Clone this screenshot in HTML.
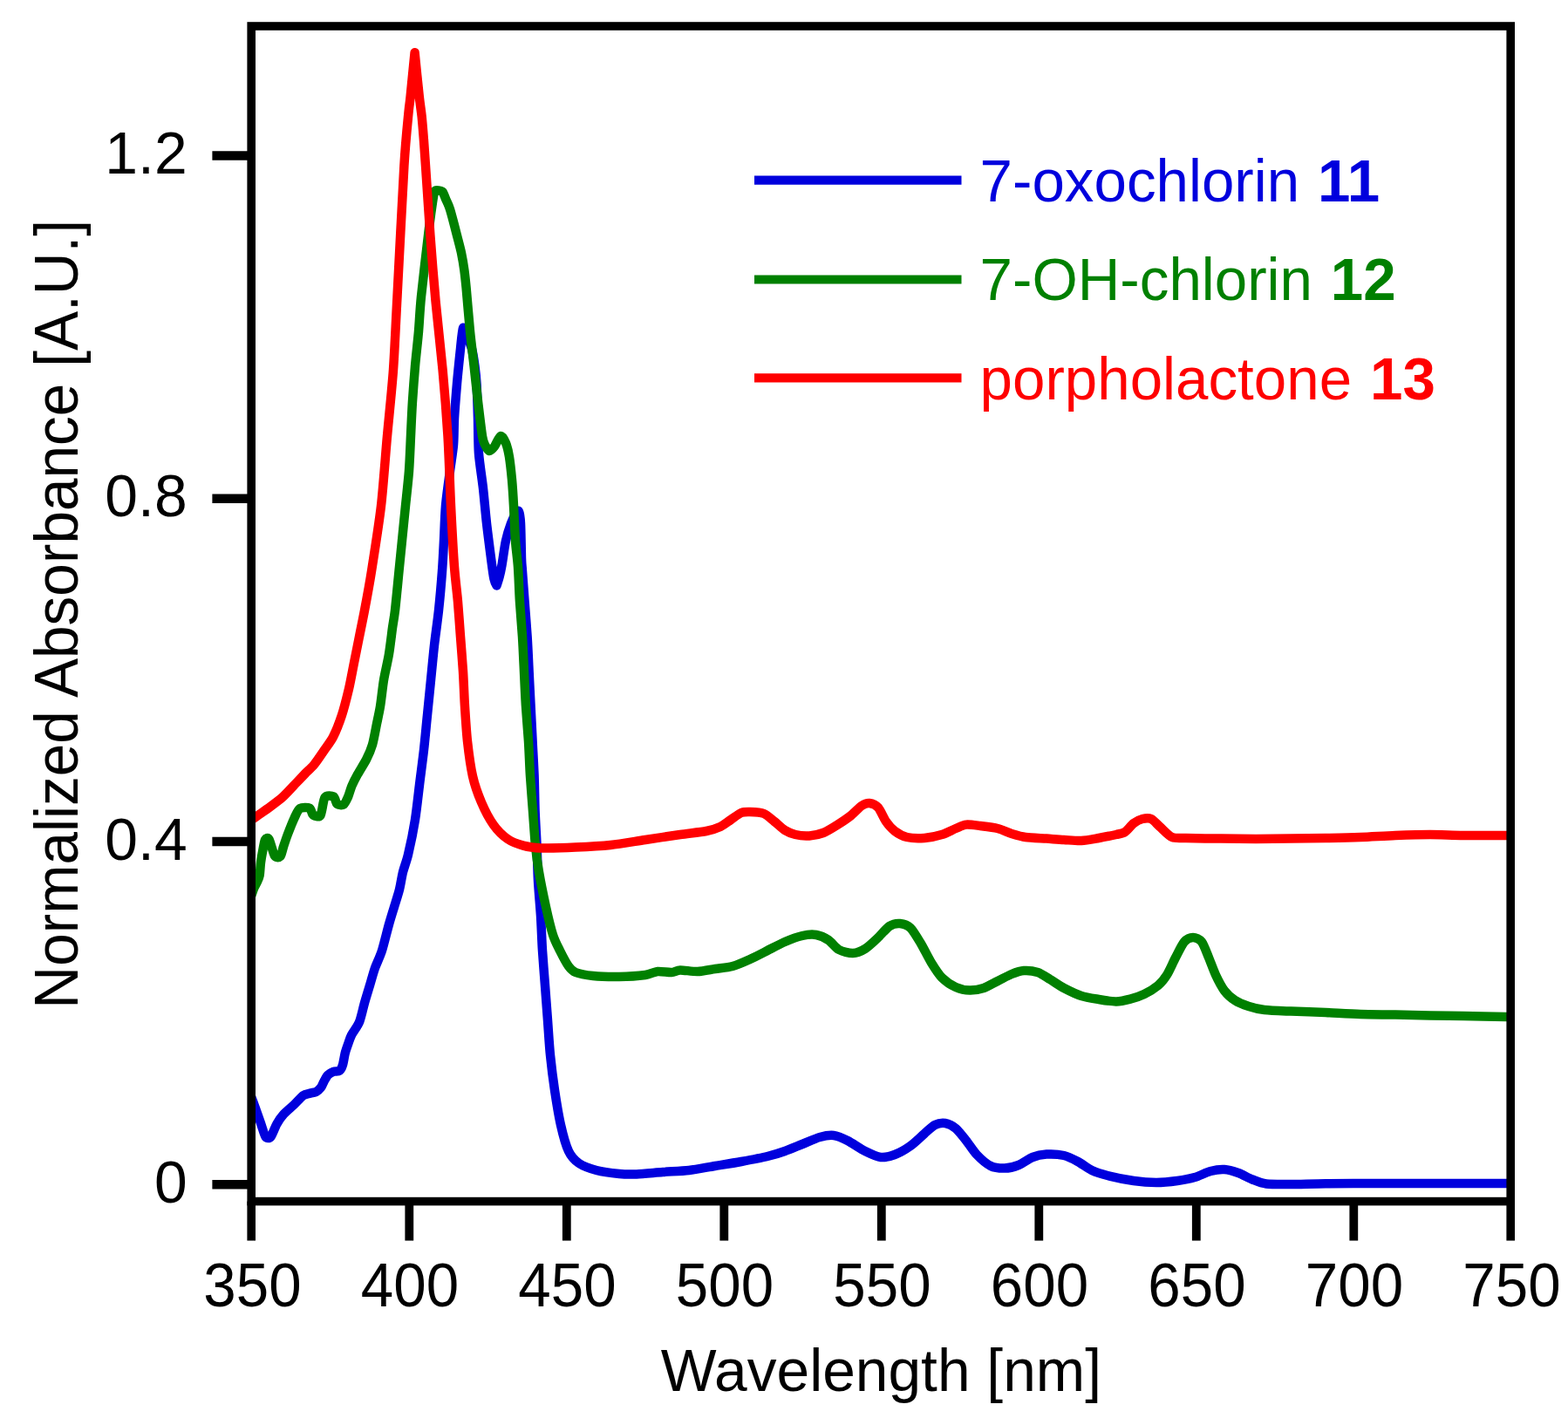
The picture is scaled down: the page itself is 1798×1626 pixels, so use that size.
<!DOCTYPE html>
<html lang="en"><head><meta charset="utf-8"><title>Normalized Absorbance vs Wavelength</title>
<style>html,body{margin:0;padding:0;background:#fff}svg{display:block}text{font-family:"Liberation Sans",sans-serif;}</style></head><body>
<svg width="1798" height="1626" viewBox="0 0 1798 1626">
<rect width="1798" height="1626" fill="#ffffff"/>
<defs><clipPath id="plot"><rect x="288.2" y="30.0" width="1444.0" height="1347.6"/></clipPath></defs>
<g clip-path="url(#plot)" fill="none" stroke-width="10.5" stroke-linejoin="round" stroke-linecap="butt">
<path stroke="#0000dd" d="M285.0,1249.0 C285.3,1249.9 286.4,1253.1 287.5,1256.0 C288.6,1258.9 291.5,1266.7 293.0,1271.0 C294.5,1275.3 297.5,1283.7 299.0,1288.0 C300.5,1292.3 303.0,1301.4 304.5,1303.5 C306.0,1305.6 308.8,1305.5 310.5,1303.5 C312.2,1301.5 315.4,1292.3 317.4,1288.8 C319.4,1285.3 322.8,1280.5 325.4,1277.6 C328.0,1274.7 333.9,1269.8 336.9,1267.0 C339.9,1264.2 345.1,1258.1 347.6,1256.3 C350.1,1254.5 353.6,1254.2 355.6,1253.6 C357.6,1253.0 361.0,1252.7 362.7,1251.8 C364.4,1250.9 366.9,1248.5 368.1,1246.9 C369.3,1245.3 370.5,1241.7 371.6,1239.8 C372.7,1237.9 374.7,1234.2 376.1,1232.7 C377.5,1231.2 380.5,1229.6 382.3,1228.9 C384.1,1228.2 388.0,1228.8 389.4,1227.8 C390.8,1226.8 392.2,1223.8 393.0,1221.1 C393.8,1218.4 394.9,1211.0 395.7,1207.8 C396.5,1204.6 398.2,1199.9 399.2,1197.1 C400.2,1194.3 401.3,1190.3 403.0,1187.0 C404.7,1183.7 410.0,1176.9 412.0,1172.0 C414.0,1167.1 416.4,1155.6 418.0,1150.0 C419.6,1144.4 422.4,1135.3 424.0,1130.0 C425.6,1124.7 428.1,1115.3 430.0,1110.0 C431.9,1104.7 435.9,1096.7 438.0,1090.0 C440.1,1083.3 444.1,1066.7 446.0,1060.0 C447.9,1053.3 450.4,1045.3 452.0,1040.0 C453.6,1034.7 456.7,1025.3 458.0,1020.0 C459.3,1014.7 460.7,1005.3 462.0,1000.0 C463.3,994.7 466.1,988.0 468.0,980.0 C469.9,972.0 474.3,950.7 476.0,940.0 C477.7,929.3 479.7,910.7 481.0,900.0 C482.3,889.3 484.8,870.7 486.0,860.0 C487.2,849.3 488.9,830.7 490.0,820.0 C491.1,809.3 492.9,790.7 494.0,780.0 C495.1,769.3 496.8,750.7 498.0,740.0 C499.2,729.3 501.8,711.3 503.0,700.0 C504.2,688.7 506.2,665.7 507.0,655.0 C507.8,644.3 508.5,630.0 509.0,620.0 C509.5,610.0 510.1,590.7 511.0,580.0 C511.9,569.3 514.8,549.3 516.0,540.0 C517.2,530.7 519.3,518.0 520.0,510.0 C520.7,502.0 520.5,489.3 521.0,480.0 C521.5,470.7 523.1,450.7 524.0,440.0 C524.9,429.3 527.1,408.5 528.0,400.0 C528.9,391.5 530.0,378.0 531.0,376.0 C532.0,374.0 534.2,381.8 535.5,385.0 C536.8,388.2 539.8,395.3 541.0,400.0 C542.2,404.7 543.8,414.7 544.5,420.0 C545.2,425.3 546.0,432.0 546.5,440.0 C547.0,448.0 547.7,469.3 548.0,480.0 C548.3,490.7 548.2,509.3 549.0,520.0 C549.8,530.7 552.8,549.3 554.0,560.0 C555.2,570.7 556.8,589.3 558.0,600.0 C559.2,610.7 561.9,631.5 563.0,640.0 C564.1,648.5 565.6,659.8 566.5,664.0 C567.4,668.2 569.5,671.5 569.5,671.5 C569.5,671.5 571.7,665.1 572.5,662.0 C573.3,658.9 574.5,653.6 575.5,648.0 C576.5,642.4 578.6,626.4 580.0,620.0 C581.4,613.6 584.4,604.3 586.0,600.0 C587.6,595.7 590.8,589.8 592.0,588.0 C593.2,586.2 594.3,584.9 595.0,586.5 C595.7,588.1 596.6,592.9 597.0,600.0 C597.4,607.1 597.8,633.3 598.0,640.0 C598.2,646.7 598.1,643.3 598.6,650.0 C599.1,656.7 600.8,679.3 601.6,690.0 C602.4,700.7 603.9,719.3 604.6,730.0 C605.3,740.7 606.1,759.3 606.6,770.0 C607.1,780.7 608.1,799.3 608.6,810.0 C609.1,820.7 610.1,839.3 610.6,850.0 C611.1,860.7 612.2,879.3 612.6,890.0 C613.0,900.7 613.2,919.3 613.6,930.0 C614.0,940.7 615.1,959.3 615.6,970.0 C616.1,980.7 616.4,999.3 617.0,1010.0 C617.6,1020.7 619.3,1039.3 620.0,1050.0 C620.7,1060.7 621.3,1079.3 622.0,1090.0 C622.7,1100.7 624.2,1119.3 625.0,1130.0 C625.8,1140.7 627.2,1159.3 628.0,1170.0 C628.8,1180.7 629.9,1199.3 631.0,1210.0 C632.1,1220.7 634.4,1239.3 636.0,1250.0 C637.6,1260.7 640.9,1280.7 643.0,1290.0 C645.1,1299.3 649.2,1314.1 652.0,1320.0 C654.8,1325.9 659.7,1331.1 664.0,1334.0 C668.3,1336.9 677.9,1340.4 684.0,1342.0 C690.1,1343.6 703.9,1345.4 710.0,1346.0 C716.1,1346.6 723.3,1346.7 730.0,1346.4 C736.7,1346.1 752.0,1344.6 760.0,1344.0 C768.0,1343.4 782.0,1342.9 790.0,1342.0 C798.0,1341.1 812.0,1338.3 820.0,1337.0 C828.0,1335.7 842.0,1333.5 850.0,1332.0 C858.0,1330.5 873.3,1327.6 880.0,1326.0 C886.7,1324.4 894.7,1321.9 900.0,1320.0 C905.3,1318.1 914.7,1314.1 920.0,1312.0 C925.3,1309.9 935.2,1305.3 940.0,1304.0 C944.8,1302.7 951.7,1301.5 956.0,1302.0 C960.3,1302.5 967.2,1305.6 972.0,1308.0 C976.8,1310.4 986.9,1317.5 992.0,1320.0 C997.1,1322.5 1005.5,1326.5 1010.0,1327.0 C1014.5,1327.5 1021.5,1325.7 1026.0,1324.0 C1030.5,1322.3 1039.5,1317.2 1044.0,1314.0 C1048.5,1310.8 1056.3,1303.2 1060.0,1300.0 C1063.7,1296.8 1068.8,1291.6 1072.0,1290.0 C1075.2,1288.4 1080.8,1287.5 1084.0,1288.0 C1087.2,1288.5 1092.8,1291.3 1096.0,1294.0 C1099.2,1296.7 1104.8,1304.0 1108.0,1308.0 C1111.2,1312.0 1116.3,1320.1 1120.0,1324.0 C1123.7,1327.9 1131.7,1334.9 1136.0,1337.0 C1140.3,1339.1 1147.7,1339.7 1152.0,1339.6 C1156.3,1339.5 1163.7,1337.7 1168.0,1336.0 C1172.3,1334.3 1179.7,1328.7 1184.0,1327.0 C1188.3,1325.3 1195.2,1323.9 1200.0,1323.6 C1204.8,1323.3 1215.2,1323.9 1220.0,1325.0 C1224.8,1326.1 1231.7,1329.7 1236.0,1332.0 C1240.3,1334.3 1247.5,1339.9 1252.0,1342.0 C1256.5,1344.1 1263.6,1346.4 1270.0,1348.0 C1276.4,1349.6 1292.5,1352.9 1300.0,1354.0 C1307.5,1355.1 1319.3,1356.0 1326.0,1356.0 C1332.7,1356.0 1344.1,1354.8 1350.0,1354.0 C1355.9,1353.2 1364.9,1351.5 1370.0,1350.0 C1375.1,1348.5 1383.5,1344.2 1388.0,1343.0 C1392.5,1341.8 1399.7,1340.7 1404.0,1341.0 C1408.3,1341.3 1415.7,1343.5 1420.0,1345.0 C1424.3,1346.5 1431.7,1350.8 1436.0,1352.5 C1440.3,1354.2 1446.1,1356.8 1452.0,1357.5 C1457.9,1358.2 1470.9,1358.0 1480.0,1358.0 C1489.1,1358.0 1506.7,1357.3 1520.0,1357.2 C1533.3,1357.1 1564.0,1357.0 1580.0,1357.0 C1596.0,1357.0 1620.4,1357.0 1640.0,1357.0 C1659.6,1357.0 1714.6,1357.0 1727.0,1357.0 C1739.4,1357.0 1732.2,1357.0 1733.0,1357.0"/>
<path stroke="#008000" d="M288.2,1027.0 C288.6,1025.9 290.2,1021.0 291.0,1019.0 C291.8,1017.0 293.6,1014.0 294.5,1012.0 C295.4,1010.0 297.0,1007.1 297.6,1004.0 C298.2,1000.9 298.5,992.6 299.0,989.0 C299.5,985.4 300.3,980.5 301.0,977.0 C301.7,973.5 303.0,964.9 304.0,963.0 C305.0,961.1 307.0,960.0 308.5,962.5 C310.0,965.0 313.3,978.9 315.0,981.5 C316.7,984.1 320.2,983.4 321.5,982.0 C322.8,980.6 323.9,974.3 325.0,971.0 C326.1,967.7 328.1,961.5 329.8,957.0 C331.5,952.5 335.9,941.4 337.8,937.4 C339.7,933.4 341.7,928.4 344.0,927.0 C346.3,925.6 353.0,925.6 355.0,926.6 C357.0,927.6 357.3,933.4 359.0,934.5 C360.7,935.6 365.7,937.7 367.5,935.0 C369.3,932.3 370.5,917.4 372.5,914.5 C374.5,911.6 380.6,912.5 382.5,913.5 C384.4,914.5 385.0,920.8 386.5,922.0 C388.0,923.2 392.3,923.6 394.0,922.5 C395.7,921.4 397.7,916.9 399.0,914.0 C400.3,911.1 402.0,904.5 403.5,901.0 C405.0,897.5 407.8,892.0 410.0,888.0 C412.2,884.0 417.7,875.5 420.0,871.0 C422.3,866.5 425.4,859.5 427.0,854.0 C428.6,848.5 430.8,835.9 432.0,830.0 C433.2,824.1 434.9,816.7 436.0,810.0 C437.1,803.3 438.7,788.0 440.0,780.0 C441.3,772.0 444.7,758.0 446.0,750.0 C447.3,742.0 449.1,726.7 450.0,720.0 C450.9,713.3 451.9,709.3 453.0,700.0 C454.1,690.7 456.9,660.7 458.0,650.0 C459.1,639.3 460.1,629.3 461.0,620.0 C461.9,610.7 463.9,590.7 465.0,580.0 C466.1,569.3 468.2,550.7 469.0,540.0 C469.8,529.3 470.5,510.7 471.0,500.0 C471.5,489.3 472.3,470.7 473.0,460.0 C473.7,449.3 475.1,430.7 476.0,420.0 C476.9,409.3 479.1,390.7 480.0,380.0 C480.9,369.3 481.5,354.7 483.0,340.0 C484.5,325.3 489.3,284.4 491.0,270.0 C492.7,255.6 495.0,238.7 496.0,232.0 C497.0,225.3 497.6,221.3 498.5,219.5 C499.4,217.7 501.8,218.4 503.0,218.5 C504.2,218.6 506.4,218.7 507.5,220.0 C508.6,221.3 509.9,225.3 511.0,228.0 C512.1,230.7 514.3,234.4 516.0,240.0 C517.7,245.6 522.3,263.3 524.0,270.0 C525.7,276.7 527.9,284.7 529.0,290.0 C530.1,295.3 531.7,304.7 532.4,310.0 C533.1,315.3 533.7,320.7 534.6,330.0 C535.5,339.3 537.8,368.0 539.0,380.0 C540.2,392.0 542.4,409.3 543.6,420.0 C544.8,430.7 546.7,449.3 548.0,460.0 C549.3,470.7 551.9,493.3 553.0,500.0 C554.1,506.7 554.9,507.7 556.0,510.0 C557.1,512.3 559.5,516.7 561.0,517.0 C562.5,517.3 565.3,514.3 567.0,512.0 C568.7,509.7 572.3,500.5 574.0,500.0 C575.7,499.5 578.7,504.8 580.0,508.0 C581.3,511.2 583.1,518.4 584.0,524.0 C584.9,529.6 586.3,542.5 587.0,550.0 C587.7,557.5 588.5,570.7 589.0,580.0 C589.5,589.3 590.3,610.7 591.0,620.0 C591.7,629.3 593.3,640.7 594.0,650.0 C594.7,659.3 595.3,679.3 596.0,690.0 C596.7,700.7 598.3,719.3 599.0,730.0 C599.7,740.7 600.5,759.3 601.0,770.0 C601.5,780.7 602.3,799.3 603.0,810.0 C603.7,820.7 605.3,839.3 606.0,850.0 C606.7,860.7 607.3,879.3 608.0,890.0 C608.7,900.7 610.2,919.3 611.0,930.0 C611.8,940.7 613.1,960.7 614.0,970.0 C614.9,979.3 616.4,990.7 618.0,1000.0 C619.6,1009.3 623.9,1030.4 626.0,1040.0 C628.1,1049.6 631.9,1065.3 634.0,1072.0 C636.1,1078.7 639.6,1085.2 642.0,1090.0 C644.4,1094.8 649.6,1104.7 652.0,1108.0 C654.4,1111.3 656.3,1113.5 660.0,1115.0 C663.7,1116.5 673.3,1118.3 680.0,1119.0 C686.7,1119.7 702.0,1120.1 710.0,1120.0 C718.0,1119.9 734.1,1118.8 740.0,1118.0 C745.9,1117.2 750.0,1114.4 754.0,1114.0 C758.0,1113.6 766.5,1115.2 770.0,1115.0 C773.5,1114.8 776.0,1112.5 780.0,1112.4 C784.0,1112.3 794.7,1114.2 800.0,1114.0 C805.3,1113.8 814.7,1111.8 820.0,1111.0 C825.3,1110.2 834.7,1109.5 840.0,1108.0 C845.3,1106.5 854.7,1102.4 860.0,1100.0 C865.3,1097.6 874.7,1092.7 880.0,1090.0 C885.3,1087.3 894.7,1082.3 900.0,1080.0 C905.3,1077.7 915.2,1074.1 920.0,1073.0 C924.8,1071.9 932.0,1071.3 936.0,1072.0 C940.0,1072.7 946.5,1075.7 950.0,1078.0 C953.5,1080.3 958.3,1087.0 962.0,1089.0 C965.7,1091.0 974.0,1093.1 978.0,1093.0 C982.0,1092.9 988.3,1090.3 992.0,1088.0 C995.7,1085.7 1002.3,1079.5 1006.0,1076.0 C1009.7,1072.5 1016.5,1064.3 1020.0,1062.0 C1023.5,1059.7 1028.8,1058.7 1032.0,1059.0 C1035.2,1059.3 1040.8,1060.9 1044.0,1064.0 C1047.2,1067.1 1052.8,1076.7 1056.0,1082.0 C1059.2,1087.3 1064.8,1098.8 1068.0,1104.0 C1071.2,1109.2 1076.3,1117.3 1080.0,1121.0 C1083.7,1124.7 1091.7,1130.1 1096.0,1132.0 C1100.3,1133.9 1107.7,1135.5 1112.0,1135.6 C1116.3,1135.7 1123.7,1134.4 1128.0,1133.0 C1132.3,1131.6 1139.7,1127.1 1144.0,1125.0 C1148.3,1122.9 1156.0,1118.6 1160.0,1117.0 C1164.0,1115.4 1170.0,1113.3 1174.0,1113.0 C1178.0,1112.7 1186.0,1113.7 1190.0,1115.0 C1194.0,1116.3 1200.0,1120.6 1204.0,1123.0 C1208.0,1125.4 1215.2,1130.5 1220.0,1133.0 C1224.8,1135.5 1234.7,1140.3 1240.0,1142.0 C1245.3,1143.7 1254.7,1145.1 1260.0,1146.0 C1265.3,1146.9 1275.2,1148.5 1280.0,1148.4 C1284.8,1148.3 1291.7,1146.7 1296.0,1145.6 C1300.3,1144.5 1307.7,1142.1 1312.0,1140.0 C1316.3,1137.9 1324.5,1132.9 1328.0,1130.0 C1331.5,1127.1 1335.3,1122.3 1338.0,1118.0 C1340.7,1113.7 1345.3,1103.1 1348.0,1098.0 C1350.7,1092.9 1355.3,1083.1 1358.0,1080.0 C1360.7,1076.9 1365.3,1075.0 1368.0,1075.0 C1370.7,1075.0 1375.6,1076.9 1378.0,1080.0 C1380.4,1083.1 1383.9,1092.9 1386.0,1098.0 C1388.1,1103.1 1391.6,1112.9 1394.0,1118.0 C1396.4,1123.1 1401.1,1132.1 1404.0,1136.0 C1406.9,1139.9 1412.3,1144.6 1416.0,1147.0 C1419.7,1149.4 1427.5,1152.5 1432.0,1154.0 C1436.5,1155.5 1443.6,1157.3 1450.0,1158.0 C1456.4,1158.7 1470.7,1159.2 1480.0,1159.6 C1489.3,1160.0 1509.3,1160.5 1520.0,1161.0 C1530.7,1161.5 1549.3,1162.7 1560.0,1163.0 C1570.7,1163.3 1589.3,1163.4 1600.0,1163.6 C1610.7,1163.8 1629.6,1164.2 1640.0,1164.4 C1650.4,1164.6 1666.4,1164.8 1678.0,1165.0 C1689.6,1165.2 1719.7,1165.9 1727.0,1166.0 C1734.3,1166.1 1732.2,1166.0 1733.0,1166.0"/>
<path stroke="#ff0000" d="M288.0,940.5 C288.7,940.0 290.1,939.1 293.0,937.0 C295.9,934.9 305.8,928.1 310.0,925.0 C314.2,921.9 320.6,917.3 324.5,913.7 C328.4,910.1 336.1,901.6 339.5,898.0 C342.9,894.4 347.3,889.8 350.0,887.0 C352.7,884.2 357.1,880.6 360.0,877.0 C362.9,873.4 369.1,864.3 372.0,860.0 C374.9,855.7 379.3,850.3 382.0,845.0 C384.7,839.7 389.6,827.3 392.0,820.0 C394.4,812.7 398.1,798.0 400.0,790.0 C401.9,782.0 404.4,768.0 406.0,760.0 C407.6,752.0 410.4,738.0 412.0,730.0 C413.6,722.0 416.1,710.0 418.0,700.0 C419.9,690.0 423.5,671.0 426.0,655.0 C428.5,639.0 434.6,600.7 437.0,580.0 C439.4,559.3 442.1,520.8 444.0,500.0 C445.9,479.2 449.5,445.3 451.0,424.0 C452.5,402.7 453.8,371.2 455.5,340.0 C457.2,308.8 461.7,218.1 463.4,190.0 C465.1,161.9 467.5,139.5 468.5,129.0 C469.5,118.5 469.7,120.2 470.6,111.0 C471.5,101.8 475.6,60.3 475.6,60.3 C475.6,60.3 479.7,101.3 480.8,111.0 C481.9,120.7 482.9,126.5 483.6,133.0 C484.3,139.5 485.3,152.4 485.9,160.0 C486.5,167.6 487.0,175.3 488.0,190.0 C489.0,204.7 491.9,249.3 493.4,270.0 C494.9,290.7 497.6,324.5 499.5,345.0 C501.4,365.5 505.7,403.3 507.6,424.0 C509.5,444.7 512.2,479.2 513.5,500.0 C514.8,520.8 516.0,560.0 517.0,580.0 C518.0,600.0 519.9,635.3 521.0,650.0 C522.1,664.7 524.1,679.3 525.0,690.0 C525.9,700.7 527.2,719.3 528.0,730.0 C528.8,740.7 530.3,759.3 531.0,770.0 C531.7,780.7 532.3,799.3 533.0,810.0 C533.7,820.7 534.8,839.3 536.0,850.0 C537.2,860.7 539.9,880.7 542.0,890.0 C544.1,899.3 548.8,912.5 552.0,920.0 C555.2,927.5 562.0,940.4 566.0,946.0 C570.0,951.6 577.5,958.9 582.0,962.0 C586.5,965.1 594.9,968.2 600.0,969.6 C605.1,971.0 612.0,972.1 620.0,972.4 C628.0,972.7 649.3,972.1 660.0,971.6 C670.7,971.1 689.3,970.1 700.0,969.0 C710.7,967.9 729.3,964.6 740.0,963.0 C750.7,961.4 770.7,958.3 780.0,957.0 C789.3,955.7 803.9,954.2 810.0,953.0 C816.1,951.8 822.3,949.7 826.0,948.0 C829.7,946.3 834.8,942.1 838.0,940.0 C841.2,937.9 847.1,933.2 850.0,932.0 C852.9,930.8 856.5,930.9 860.0,931.0 C863.5,931.1 872.3,931.5 876.0,933.0 C879.7,934.5 884.8,939.5 888.0,942.0 C891.2,944.5 896.8,950.0 900.0,952.0 C903.2,954.0 908.3,956.1 912.0,957.0 C915.7,957.9 923.7,958.7 928.0,958.4 C932.3,958.1 939.7,956.7 944.0,955.0 C948.3,953.3 955.7,948.7 960.0,946.0 C964.3,943.3 972.3,937.9 976.0,935.0 C979.7,932.1 985.2,925.9 988.0,924.0 C990.8,922.1 994.5,920.7 997.0,921.0 C999.5,921.3 1004.5,923.2 1007.0,926.0 C1009.5,928.8 1013.5,938.4 1016.0,942.0 C1018.5,945.6 1022.8,950.6 1026.0,953.0 C1029.2,955.4 1035.5,958.9 1040.0,960.0 C1044.5,961.1 1054.7,961.4 1060.0,961.0 C1065.3,960.6 1075.2,958.5 1080.0,957.0 C1084.8,955.5 1092.3,951.5 1096.0,950.0 C1099.7,948.5 1104.3,946.0 1108.0,945.6 C1111.7,945.2 1119.2,946.4 1124.0,947.0 C1128.8,947.6 1139.2,948.8 1144.0,950.0 C1148.8,951.2 1155.7,954.7 1160.0,956.0 C1164.3,957.3 1170.7,959.3 1176.0,960.0 C1181.3,960.7 1194.1,961.2 1200.0,961.6 C1205.9,962.0 1214.7,962.7 1220.0,963.0 C1225.3,963.3 1234.7,964.3 1240.0,964.0 C1245.3,963.7 1254.7,961.9 1260.0,961.0 C1265.3,960.1 1276.0,957.9 1280.0,957.0 C1284.0,956.1 1287.3,955.7 1290.0,954.0 C1292.7,952.3 1297.3,946.0 1300.0,944.0 C1302.7,942.0 1307.3,939.7 1310.0,939.0 C1312.7,938.3 1317.3,937.8 1320.0,939.0 C1322.7,940.2 1326.8,945.2 1330.0,948.0 C1333.2,950.8 1340.0,958.3 1344.0,960.0 C1348.0,961.7 1352.5,960.8 1360.0,961.0 C1367.5,961.2 1389.3,961.5 1400.0,961.6 C1410.7,961.7 1429.3,962.0 1440.0,962.0 C1450.7,962.0 1469.3,961.7 1480.0,961.6 C1490.7,961.5 1509.3,961.2 1520.0,961.0 C1530.7,960.8 1549.3,960.4 1560.0,960.0 C1570.7,959.6 1589.3,958.4 1600.0,958.0 C1610.7,957.6 1629.6,957.0 1640.0,957.0 C1650.4,957.0 1666.4,957.9 1678.0,958.0 C1689.6,958.1 1719.7,958.0 1727.0,958.0 C1734.3,958.0 1732.2,958.0 1733.0,958.0"/>
</g>
<g stroke="#000" fill="none" stroke-linecap="butt">
<rect x="288.2" y="30.0" width="1444.0" height="1347.6" stroke-width="9.6"/>
<line x1="288.2" y1="1377.6" x2="288.2" y2="1422.6" stroke-width="9.6"/>
<line x1="469.3" y1="1377.6" x2="469.3" y2="1422.6" stroke-width="9.8"/>
<line x1="649.8" y1="1377.6" x2="649.8" y2="1422.6" stroke-width="9.8"/>
<line x1="830.3" y1="1377.6" x2="830.3" y2="1422.6" stroke-width="9.8"/>
<line x1="1010.8" y1="1377.6" x2="1010.8" y2="1422.6" stroke-width="9.8"/>
<line x1="1191.3" y1="1377.6" x2="1191.3" y2="1422.6" stroke-width="9.8"/>
<line x1="1371.8" y1="1377.6" x2="1371.8" y2="1422.6" stroke-width="9.8"/>
<line x1="1552.3" y1="1377.6" x2="1552.3" y2="1422.6" stroke-width="9.8"/>
<line x1="1732.2" y1="1377.6" x2="1732.2" y2="1422.6" stroke-width="9.6"/>
<line x1="243.4" y1="1358.3" x2="288.2" y2="1358.3" stroke-width="10.4"/>
<line x1="243.4" y1="965.0" x2="288.2" y2="965.0" stroke-width="10.4"/>
<line x1="243.4" y1="571.8" x2="288.2" y2="571.8" stroke-width="10.4"/>
<line x1="243.4" y1="178.5" x2="288.2" y2="178.5" stroke-width="10.4"/>
</g>
<g font-size="67.3" fill="#000">
<text transform="translate(289.5,1498.0) scale(1,1.035)" text-anchor="middle">350</text>
<text transform="translate(470.0,1498.0) scale(1,1.035)" text-anchor="middle">400</text>
<text transform="translate(650.5,1498.0) scale(1,1.035)" text-anchor="middle">450</text>
<text transform="translate(831.0,1498.0) scale(1,1.035)" text-anchor="middle">500</text>
<text transform="translate(1011.5,1498.0) scale(1,1.035)" text-anchor="middle">550</text>
<text transform="translate(1192.0,1498.0) scale(1,1.035)" text-anchor="middle">600</text>
<text transform="translate(1372.5,1498.0) scale(1,1.035)" text-anchor="middle">650</text>
<text transform="translate(1553.0,1498.0) scale(1,1.035)" text-anchor="middle">700</text>
<text transform="translate(1733.5,1498.0) scale(1,1.035)" text-anchor="middle">750</text>
<text transform="translate(214.6,1378.9) scale(1,1.012)" font-size="67.8" text-anchor="end">0</text>
<text transform="translate(214.6,985.6) scale(1,1.012)" font-size="67.8" text-anchor="end">0.4</text>
<text transform="translate(214.6,592.4) scale(1,1.012)" font-size="67.8" text-anchor="end">0.8</text>
<text transform="translate(214.6,199.1) scale(1,1.012)" font-size="67.8" text-anchor="end">1.2</text>
<text transform="translate(1010.3,1594.5) scale(1,1.015)" font-size="67.7" text-anchor="middle">Wavelength [nm]</text>
<text transform="translate(88.8,704.3) rotate(-90) scale(1,1.05)" font-size="67.55" text-anchor="middle">Normalized Absorbance [A.U.]</text>
</g>
<g stroke-width="10.2" fill="none">
<line x1="865" y1="206.6" x2="1102.5" y2="206.6" stroke="#0000dd"/>
<line x1="865" y1="320.5" x2="1102.5" y2="320.5" stroke="#008000"/>
<line x1="865" y1="433.4" x2="1102.5" y2="433.4" stroke="#ff0000"/>
</g>
<g font-size="67.3">
<text transform="translate(1123.6,230.6) scale(1,1.005)" fill="#0000dd" xml:space="preserve">7-oxochlorin <tspan font-weight="bold" dx="2.2">11</tspan></text>
<text transform="translate(1123.6,344.20000000000005) scale(1,1.005)" fill="#008000" xml:space="preserve">7-OH-chlorin <tspan font-weight="bold" dx="2.2">12</tspan></text>
<text transform="translate(1123.6,457.5) scale(1,1.005)" fill="#ff0000" xml:space="preserve">porpholactone <tspan font-weight="bold" dx="2.2">13</tspan></text>
</g>
</svg></body></html>
